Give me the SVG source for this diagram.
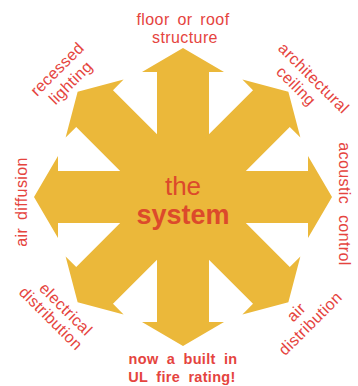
<svg xmlns="http://www.w3.org/2000/svg" width="358" height="386" viewBox="0 0 358 386">
<style>
.lbl{font-family:"Liberation Sans",Arial,Helvetica,sans-serif;font-size:16px;fill:#e5443e;text-anchor:middle;letter-spacing:0.4px;word-spacing:3px}
.bold{font-weight:bold;font-size:14.5px;word-spacing:4px;letter-spacing:0.3px}
.ctr{font-family:"Liberation Sans",Arial,Helvetica,sans-serif;font-size:26px;fill:#dc4a2b;text-anchor:middle}
</style>
<defs>
<polygon id="arrow" points="-26,0 -26,-125 -41,-125 0,-149 41,-125 26,-125 26,0" fill="#ebb83a"/>
</defs>
<rect width="358" height="386" fill="#ffffff"/>
<g id="star" transform="translate(183,197)">
<use href="#arrow"/>
<use href="#arrow" transform="rotate(45)"/>
<use href="#arrow" transform="rotate(90)"/>
<use href="#arrow" transform="rotate(135)"/>
<use href="#arrow" transform="rotate(180)"/>
<use href="#arrow" transform="rotate(225)"/>
<use href="#arrow" transform="rotate(270)"/>
<use href="#arrow" transform="rotate(315)"/>
</g>
<g id="center">
<text class="ctr" x="183" y="195">the</text>
<text class="ctr" x="183" y="224" font-weight="bold" style="font-size:27px">system</text>
</g>
<g id="label-top">
<text class="lbl" x="183" y="25">floor or roof</text>
<text class="lbl" x="185" y="43">structure</text>
</g>
<g id="label-top-right" transform="translate(310,82) rotate(45)">
<text class="lbl" x="0" y="0">architectural</text>
<text class="lbl" x="-7" y="18">ceiling</text>
</g>
<g id="label-right" transform="translate(339,204) rotate(90)">
<text class="lbl" x="0" y="0" style="word-spacing:6px">acoustic control</text>
</g>
<g id="label-bottom-right" transform="translate(300,316) rotate(-45)">
<text class="lbl" x="0" y="0">air</text>
<text class="lbl" x="2" y="18">distribution</text>
</g>
<g id="label-bottom">
<text class="lbl bold" x="183" y="364">now a built in</text>
<text class="lbl bold" x="182" y="382">UL fire rating!</text>
</g>
<g id="label-bottom-left" transform="translate(62,313) rotate(45)">
<text class="lbl" x="0" y="0">electrical</text>
<text class="lbl" x="-4" y="17">distribution</text>
</g>
<g id="label-left" transform="translate(27,202) rotate(-90)">
<text class="lbl" x="0" y="0">air diffusion</text>
</g>
<g id="label-top-left" transform="translate(61,73) rotate(-45)">
<text class="lbl" x="0" y="0">recessed</text>
<text class="lbl" x="0" y="19">lighting</text>
</g>
</svg>
